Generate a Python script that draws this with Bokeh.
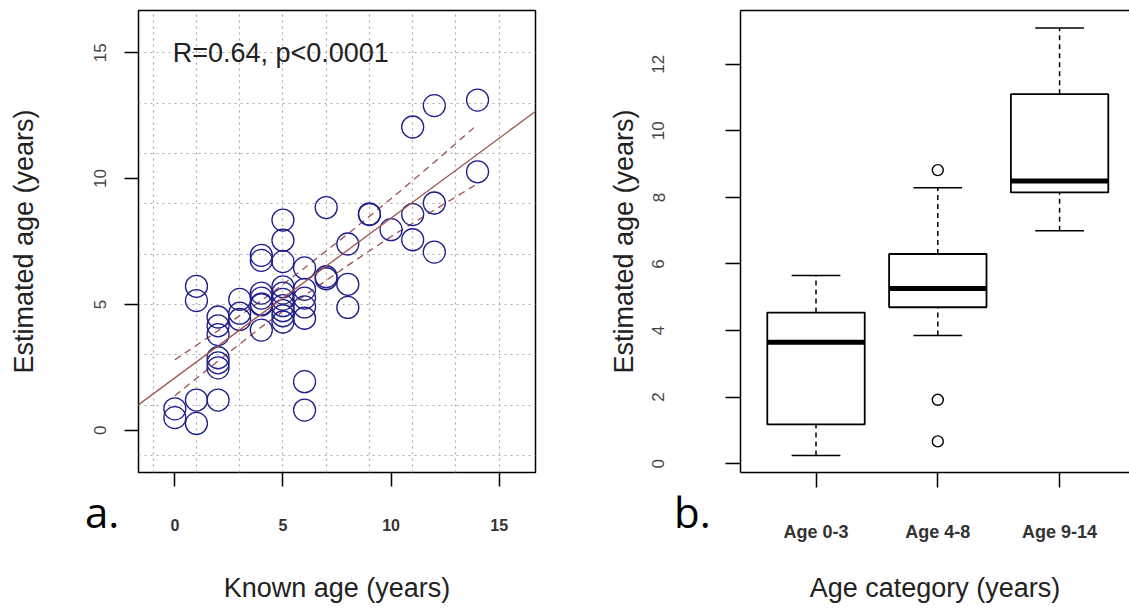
from bokeh.plotting import figure
from bokeh.layouts import row
from bokeh.models import FixedTicker, Label, Slope, LinearAxis, Range1d, Div
from bokeh.embed import file_html
from bokeh.resources import INLINE

# ---------------- data: panel a (scatter) ----------------
known_age = [0, 0,
             1, 1, 1, 1,
             2, 2, 2, 2, 2, 2, 2,
             3, 3, 3,
             4, 4, 4, 4, 4, 4, 4,
             5, 5, 5, 5, 5, 5, 5, 5, 5, 5,
             6, 6, 6, 6, 6, 6, 6,
             7, 7, 7,
             8, 8, 8,
             9, 9,
             10,
             11, 11, 11,
             12, 12, 12,
             14, 14]
estimated_age = [0.85, 0.5,
                 5.72, 5.15, 1.2, 0.27,
                 4.5, 4.15, 3.8, 2.88, 2.68, 2.48, 1.2,
                 5.2, 4.65, 4.4,
                 6.95, 6.75, 5.45, 5.25, 5.02, 4.98, 3.98,
                 8.35, 7.55, 6.7, 5.7, 5.45, 5.2, 4.95, 4.75, 4.55, 4.3,
                 6.45, 5.6, 5.25, 4.9, 4.45, 1.93, 0.8,
                 8.85, 6.1, 6.02,
                 7.4, 5.8, 4.88,
                 8.6, 8.57,
                 7.97,
                 12.05, 8.57, 7.57,
                 12.9, 9.03, 7.08,
                 13.12, 10.27]
fit_intercept = 2.08
fit_slope = 0.635
ci_x = [0, 2, 4, 6, 8, 10, 12, 14]
ci_upper = [2.8, 3.95, 5.15, 6.45, 7.8, 9.2, 10.65, 12.15]
ci_lower = [1.37, 2.75, 4.1, 5.35, 6.55, 7.7, 8.75, 9.8]
stat_text = "R=0.64, p<0.0001"
a_ticks = [0, 5, 10, 15]
a_grid = [-1, 1, 3, 5, 7, 9, 11, 13, 15]
panel_tags = ["a.", "b."]

# ---------------- data: panel b (boxplot) ----------------
categories = ["Age 0-3", "Age 4-8", "Age 9-14"]
whisker_low = [0.25, 3.85, 7.0]
q1 = [1.18, 4.7, 8.15]
median = [3.65, 5.26, 8.49]
q3 = [4.54, 6.3, 11.1]
whisker_high = [5.65, 8.29, 13.09]
outlier_cat = ["Age 4-8", "Age 4-8", "Age 4-8"]
outlier_val = [8.82, 1.92, 0.67]
b_ticks = [0, 2, 4, 6, 8, 10, 12]

FONT = "Liberation Sans"
TXT = "#222222"
H = 606

# ================= panel a =================
p1 = figure(width=600, height=H, output_backend="svg", toolbar_location=None,
            x_range=Range1d(-1.68, 16.68), y_range=Range1d(-1.68, 16.68),
            min_border_left=138, min_border_right=65, min_border_top=10,
            min_border_bottom=H - 472)
p1.background_fill_color = "white"
p1.border_fill_color = "white"
p1.outline_line_color = "black"
p1.outline_line_width = 1.5

for g in (p1.xgrid, p1.ygrid):
    g.ticker = FixedTicker(ticks=a_grid)
    g.grid_line_color = "#aaaaaa"
    g.grid_line_dash = "2 4"
    g.grid_line_width = 1.2

xa1 = p1.below[0]
ya1 = p1.left[0]
xa1.ticker = FixedTicker(ticks=a_ticks)
ya1.ticker = FixedTicker(ticks=a_ticks)
for ax in (xa1, ya1):
    ax.axis_line_color = None
    ax.major_tick_out = 14
    ax.major_tick_in = 0
    ax.major_tick_line_width = 1.5
    ax.minor_tick_line_color = None
    ax.axis_label_text_font = FONT
    ax.axis_label_text_font_size = "27px"
    ax.axis_label_text_font_style = "normal"
    ax.axis_label_text_color = TXT
    ax.major_label_text_font = FONT

xa1.axis_label = "Known age (years)"
xa1.major_label_text_font_size = "16px"
xa1.major_label_text_font_style = "bold"
xa1.major_label_text_color = "#333333"
xa1.major_label_standoff = 32
xa1.axis_label_standoff = 39

ya1.axis_label = "Estimated age (years)"
ya1.major_label_orientation = "vertical"
ya1.major_label_text_font_size = "17px"
ya1.major_label_text_color = "#444444"
ya1.major_label_standoff = 18
ya1.axis_label_standoff = 53

p1.line(ci_x, ci_upper, line_color="#a0524e", line_width=1.3, line_dash="7 5")
p1.line(ci_x, ci_lower, line_color="#a0524e", line_width=1.3, line_dash="7 5")
p1.add_layout(Slope(gradient=fit_slope, y_intercept=fit_intercept,
                    line_color="#a0524e", line_width=1.3))
p1.scatter(known_age, estimated_age, marker="circle", size=22, fill_color=None,
           line_color="#1f1f8c", line_width=1.3)

p1.add_layout(Label(x=-0.1, y=15.0, text=stat_text, text_font=FONT,
                    text_font_size="27px", text_color=TXT, text_baseline="middle"))

# ================= panel b =================
pos = [i + 1 for i in range(len(categories))]
cat_pos = {c: i + 1 for i, c in enumerate(categories)}
out_pos = [cat_pos[c] for c in outlier_cat]

p2 = figure(width=529, height=H, output_backend="svg", toolbar_location=None,
            x_range=Range1d(0.38, 3.574), y_range=Range1d(-0.264, 13.614),
            min_border_left=140, min_border_right=0, min_border_top=10,
            min_border_bottom=H - 472)
p2.background_fill_color = "white"
p2.border_fill_color = "white"
p2.outline_line_color = None
p2.xgrid.grid_line_color = None
p2.ygrid.grid_line_color = None

xa2 = p2.below[0]
ya2 = p2.left[0]
xa2.ticker = FixedTicker(ticks=pos)
xa2.major_label_overrides = {p: c for p, c in zip(pos, categories)}
ya2.ticker = FixedTicker(ticks=b_ticks)
for ax in (xa2, ya2):
    ax.axis_line_color = "black"
    ax.axis_line_width = 1.5
    ax.major_tick_out = 15
    ax.major_tick_in = 0
    ax.major_tick_line_width = 1.5
    ax.minor_tick_line_color = None
    ax.axis_label_text_font = FONT
    ax.axis_label_text_font_size = "27px"
    ax.axis_label_text_font_style = "normal"
    ax.axis_label_text_color = TXT
    ax.major_label_text_font = FONT

xa2.axis_label = "Age category (years)"
xa2.major_label_text_font_size = "18px"
xa2.major_label_text_font_style = "bold"
xa2.major_label_text_color = "#333333"
xa2.major_label_standoff = 34
xa2.axis_label_standoff = 28

ya2.axis_label = "Estimated age (years)"
ya2.major_label_orientation = "vertical"
ya2.major_label_text_font_size = "17px"
ya2.major_label_text_color = "#444444"
ya2.major_label_standoff = 61
ya2.axis_label_standoff = 11

top_axis = LinearAxis(ticker=FixedTicker(ticks=[]), axis_line_color="black",
                      axis_line_width=1.5, major_tick_line_color=None,
                      minor_tick_line_color=None, major_label_text_font_size="0px",
                      major_label_standoff=0, major_tick_out=0)
p2.add_layout(top_axis, "above")

# whiskers
p2.segment(pos, q3, pos, whisker_high, line_color="black", line_width=1.5, line_dash="5 4")
p2.segment(pos, whisker_low, pos, q1, line_color="black", line_width=1.5, line_dash="5 4")
# caps
p2.segment([p - 0.2 for p in pos], whisker_high, [p + 0.2 for p in pos], whisker_high,
           line_color="black", line_width=1.5)
p2.segment([p - 0.2 for p in pos], whisker_low, [p + 0.2 for p in pos], whisker_low,
           line_color="black", line_width=1.5)
# boxes
p2.vbar(x=pos, width=0.8, bottom=q1, top=q3, fill_color="white",
        line_color="black", line_width=1.8)
# medians
p2.segment([p - 0.4 for p in pos], median, [p + 0.4 for p in pos], median,
           line_color="black", line_width=5)
# outliers
p2.scatter(out_pos, outlier_val, marker="circle", size=11, fill_color="white",
           line_color="black", line_width=1.4)

# panel tags (placed over the figures' left margins)
tag_left = ["85px", "674px"]
tags = []
for t, lx in zip(panel_tags, tag_left):
    tags.append(Div(text=t, styles={"position": "absolute", "left": lx, "top": "491px",
                                    "font-family": "Open Sans", "font-size": "42px",
                                    "line-height": "42px", "color": "black",
                                    "margin": "0", "padding": "0", "z-index": "10"}))

layout = row(p1, p2, *tags)
open("out.html", "w").write(file_html(layout, INLINE))
